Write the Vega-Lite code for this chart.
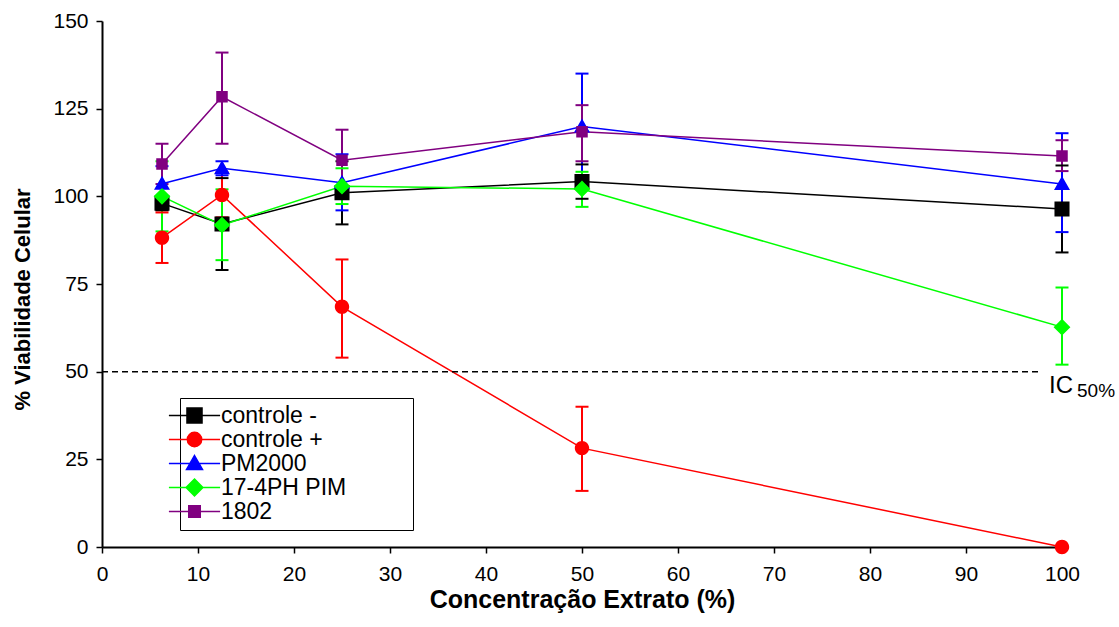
{
  "$schema": "https://vega.github.io/schema/vega-lite/v6.json",
  "width": 960,
  "height": 526,
  "autosize": {"type": "none"},
  "padding": {"left": 102, "top": 21, "right": 57, "bottom": 80},
  "background": "white",
  "config": {
    "font": "Liberation Sans",
    "view": {"stroke": null},
    "axis": {
      "grid": false,
      "domainColor": "black",
      "domainWidth": 2,
      "tickColor": "black",
      "tickWidth": 1.5,
      "tickSize": 6,
      "labelColor": "black",
      "labelFontSize": 21,
      "titleColor": "black",
      "titleFontWeight": "bold"
    }
  },
  "datasets": {
    "viab": [
      {"series": "controle -", "conc": 6.25, "mean": 98.0, "lo": 96.0, "hi": 100.0},
      {"series": "controle -", "conc": 12.5, "mean": 92.1, "lo": 79.0, "hi": 105.2},
      {"series": "controle -", "conc": 25, "mean": 101.0, "lo": 92.0, "hi": 110.0},
      {"series": "controle -", "conc": 50, "mean": 104.2, "lo": 99.3, "hi": 109.1},
      {"series": "controle -", "conc": 100, "mean": 96.4, "lo": 84.0, "hi": 108.8},
      {"series": "controle +", "conc": 6.25, "mean": 88.2, "lo": 81.0, "hi": 95.4},
      {"series": "controle +", "conc": 12.5, "mean": 100.4, "lo": 94.0, "hi": 106.8},
      {"series": "controle +", "conc": 25, "mean": 68.5, "lo": 54.0, "hi": 82.0},
      {"series": "controle +", "conc": 50, "mean": 28.2, "lo": 16.0, "hi": 40.0},
      {"series": "controle +", "conc": 100, "mean": 0.0, "lo": 0.0, "hi": 0.0},
      {"series": "PM2000", "conc": 6.25, "mean": 103.6, "lo": 98.6, "hi": 108.6},
      {"series": "PM2000", "conc": 12.5, "mean": 108.0, "lo": 106.0, "hi": 110.0},
      {"series": "PM2000", "conc": 25, "mean": 103.9, "lo": 96.0, "hi": 112.0},
      {"series": "PM2000", "conc": 50, "mean": 119.9, "lo": 105.0, "hi": 135.0},
      {"series": "PM2000", "conc": 100, "mean": 103.5, "lo": 89.8, "hi": 118.0},
      {"series": "17-4PH PIM", "conc": 6.25, "mean": 100.0, "lo": 90.0, "hi": 110.0},
      {"series": "17-4PH PIM", "conc": 12.5, "mean": 91.8, "lo": 81.8, "hi": 102.0},
      {"series": "17-4PH PIM", "conc": 25, "mean": 102.9, "lo": 97.8, "hi": 108.0},
      {"series": "17-4PH PIM", "conc": 50, "mean": 102.1, "lo": 97.0, "hi": 107.0},
      {"series": "17-4PH PIM", "conc": 100, "mean": 62.7, "lo": 52.0, "hi": 74.0},
      {"series": "1802", "conc": 6.25, "mean": 109.2, "lo": 103.5, "hi": 115.0},
      {"series": "1802", "conc": 12.5, "mean": 128.4, "lo": 115.0, "hi": 141.0},
      {"series": "1802", "conc": 25, "mean": 110.3, "lo": 101.5, "hi": 119.0},
      {"series": "1802", "conc": 50, "mean": 118.4, "lo": 110.0, "hi": 126.0},
      {"series": "1802", "conc": 100, "mean": 111.5, "lo": 107.2, "hi": 116.0}
    ],
    "single": [{}]
  },
  "layer": [
    {
      "data": {"name": "viab"},
      "mark": {"type": "rule", "strokeWidth": 2},
      "encoding": {
        "x": {
          "field": "conc", "type": "quantitative",
          "scale": {"domain": [0, 100], "nice": false, "zero": false},
          "axis": {
            "title": "Concentração Extrato (%)",
            "titleFontSize": 25,
            "titlePadding": 3,
            "labelPadding": 10,
            "values": [0, 10, 20, 30, 40, 50, 60, 70, 80, 90, 100],
            "labelFlush": false
          }
        },
        "y": {
          "field": "lo", "type": "quantitative",
          "scale": {"domain": [0, 150], "nice": false},
          "axis": {
            "title": "% Viabilidade Celular",
            "titleFontSize": 22,
            "titleX": -80,
            "titleY": 278,
            "titleAngle": 270,
            "titleBaseline": "middle",
            "titleAlign": "center",
            "labelPadding": 8,
            "values": [0, 25, 50, 75, 100, 125, 150]
          }
        },
        "y2": {"field": "hi"},
        "color": {
          "field": "series", "type": "nominal",
          "scale": {
            "domain": ["controle -", "controle +", "PM2000", "17-4PH PIM", "1802"],
            "range": ["#000000", "#ff0000", "#0000ff", "#00ff00", "#800080"]
          }
        }
      }
    },
    {
      "data": {"name": "viab"},
      "mark": {"type": "tick", "orient": "horizontal", "size": 13, "thickness": 2, "opacity": 1},
      "encoding": {
        "x": {"field": "conc", "type": "quantitative"},
        "y": {"field": "lo", "type": "quantitative"},
        "color": {"field": "series", "type": "nominal"}
      }
    },
    {
      "data": {"name": "viab"},
      "mark": {"type": "tick", "orient": "horizontal", "size": 13, "thickness": 2, "opacity": 1},
      "encoding": {
        "x": {"field": "conc", "type": "quantitative"},
        "y": {"field": "hi", "type": "quantitative"},
        "color": {"field": "series", "type": "nominal"}
      }
    },
    {
      "data": {"name": "viab"},
      "mark": {"type": "line", "strokeWidth": 1.5},
      "encoding": {
        "x": {"field": "conc", "type": "quantitative"},
        "y": {"field": "mean", "type": "quantitative"},
        "color": {"field": "series", "type": "nominal"}
      }
    },
    {
      "data": {"name": "viab"},
      "mark": {"type": "point", "filled": true, "opacity": 1, "size": 256},
      "encoding": {
        "x": {"field": "conc", "type": "quantitative"},
        "y": {"field": "mean", "type": "quantitative"},
        "color": {
          "field": "series", "type": "nominal",
          "legend": {
            "title": "\u00a0",
            "titleOrient": "right",
            "titlePadding": 61,
            "titleFontSize": 10,
            "orient": "none",
            "legendX": 78,
            "legendY": 377,
            "direction": "vertical",
            "padding": 6,
            "strokeColor": "black",
            "fillColor": "white",
            "symbolSize": 256,
            "symbolOffset": -3,
            "labelFontSize": 23,
            "labelColor": "black",
            "labelOffset": 15,
            "labelLimit": 400,
            "rowPadding": -0.7,
            "encode": {
              "symbols": {
                "update": {
                  "fill": {"signal": "scale('color', datum.value)"},
                  "stroke": {"signal": "scale('color', datum.value)"},
                  "strokeWidth": {"value": 1.5},
                  "opacity": {"value": 1}
                }
              },
              "legend": {
                "update": {"strokeWidth": {"value": 2}}
              }
            }
          }
        },
        "shape": {
          "field": "series", "type": "nominal",
          "scale": {
            "domain": ["controle -", "controle +", "PM2000", "17-4PH PIM", "1802"],
            "range": [
              "M-3.2,0H3.2M-0.94,-0.94H0.94V0.94H-0.94Z",
              "M-3.2,0H3.2M0.9,0C0.9,0.497,0.497,0.9,0,0.9C-0.497,0.9,-0.9,0.497,-0.9,0C-0.9,-0.497,-0.497,-0.9,0,-0.9C0.497,-0.9,0.9,-0.497,0.9,0Z",
              "M-3.2,0H3.2M0,-1.0L1.0,0.75L-1.0,0.75Z",
              "M-3.2,0H3.2M0,-1.05L1.05,0L0,1.05L-1.05,0Z",
              "M-3.2,0H3.2M-0.72,-0.72H0.72V0.72H-0.72Z"
            ]
          }
        }
      }
    },
    {
      "data": {"name": "single"},
      "mark": {"type": "rule", "strokeDash": [6, 4], "strokeWidth": 1.5, "color": "black"},
      "encoding": {
        "x": {"datum": 0},
        "x2": {"datum": 97.7},
        "y": {"datum": 50}
      }
    },
    {
      "data": {"name": "single"},
      "mark": {"type": "text", "text": "IC", "fontSize": 24, "align": "left", "baseline": "alphabetic", "dy": 21, "color": "black"},
      "encoding": {"x": {"datum": 98.65}, "y": {"datum": 50}}
    },
    {
      "data": {"name": "single"},
      "mark": {"type": "text", "text": "50%", "fontSize": 19, "align": "left", "baseline": "alphabetic", "dx": 28, "dy": 25, "color": "black"},
      "encoding": {"x": {"datum": 98.65}, "y": {"datum": 50}}
    }
  ]
}
